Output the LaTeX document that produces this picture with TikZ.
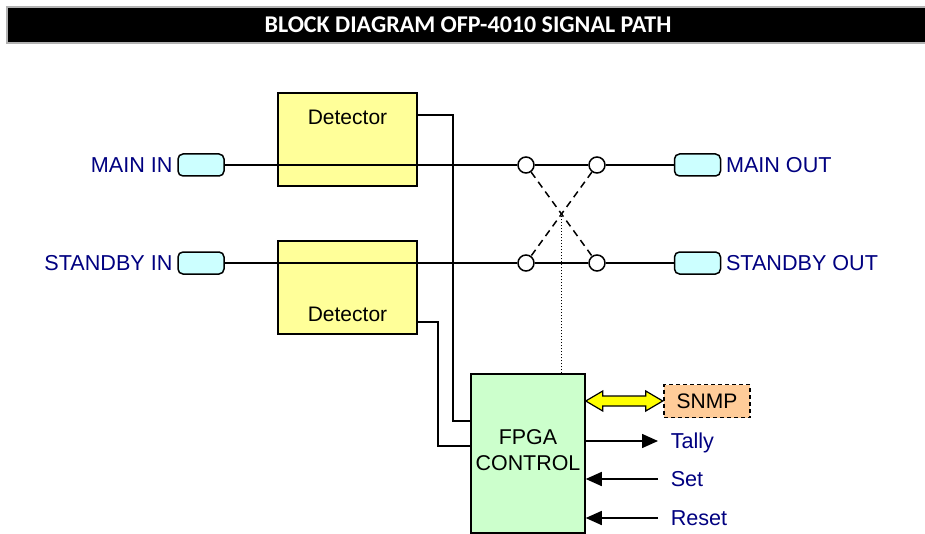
\documentclass[tikz,border=0pt]{standalone}
\usepackage{fontspec}
\setmainfont{Liberation Sans}
\newfontfamily\titlefont{Carlito}
\usepackage{tikz}
\usetikzlibrary{positioning, calc, arrows.meta}
\definecolor{ofpNavy}{RGB}{0,0,128}
\definecolor{ofpDetector}{RGB}{255,255,153}
\definecolor{ofpPort}{RGB}{204,255,255}
\definecolor{ofpFpga}{RGB}{204,255,204}
\definecolor{ofpSnmp}{RGB}{255,204,153}
\definecolor{ofpLink}{RGB}{255,255,0}

\begin{document}
\begin{tikzpicture}[x=0.5pt, y=-0.5pt, line width=0.75pt,
    detbox/.style={draw, fill=ofpDetector, minimum width=69.5pt, minimum height=46.5pt},
    detlabel/.style={font=\fontsize{10.5}{12}\selectfont},
    port/.style={draw, fill=ofpPort, rounded corners=2.5pt, minimum width=23pt, minimum height=11pt, inner sep=0pt, label distance=5pt},
    portlabel/.style={text=ofpNavy, font=\fontsize{10.8}{12}\selectfont, inner sep=2pt},
    switch/.style={draw, fill=white, circle, minimum size=8pt, inner sep=0pt},
    sig/.style={text=ofpNavy, font=\fontsize{10.8}{12}\selectfont, anchor=west, text height=7.7pt, text depth=0pt, inner sep=3pt},
    sigarrow/.style={-{Triangle[length=8pt, width=7pt]}}]
    \useasboundingbox (0,0) rectangle (925,534);
    \node[fill=black, draw=gray!60, minimum width=470pt, minimum height=18pt, text=white, font=\titlefont\bfseries\fontsize{12}{14}\selectfont] (title) at (477,25) {\hspace*{-9pt}BLOCK DIAGRAM OFP-4010 SIGNAL PATH};

    \node[detbox, label={[detlabel, anchor=north, yshift=-5pt]north:Detector}] (det1) at (347.5,139.5) {};
    \node[detbox, label={[detlabel, anchor=south, yshift=2.7pt]south:Detector}] (det2) at (347.5,287.5) {};
    \node[draw, fill=ofpFpga, minimum width=57pt, minimum height=79.5pt, inner xsep=1pt, align=center, font=\fontsize{10.7}{13}\selectfont] (fpga) at (528,453.5) {FPGA\\CONTROL\\[-10pt]\mbox{}};
    \node[draw, dash pattern=on 2pt off 1.5pt, fill=ofpSnmp, minimum width=43pt, minimum height=16.5pt, font=\fontsize{10.5}{12}\selectfont] (snmp) at (707,401) {SNMP};

    \node[port, label={[portlabel]left:MAIN IN}] (mainin) at (201,165) {};
    \node[port, label={[portlabel]left:STANDBY IN}] (sbyin) at (201,263) {};
    \node[port, label={[portlabel]right:MAIN OUT}] (mainout) at (697.5,165) {};
    \node[port, label={[portlabel]right:STANDBY OUT}] (sbyout) at (697.5,263) {};
    \node[switch] (sw1) at (526,165) {};
    \node[switch] (sw2) at (597,165) {};
    \node[switch] (sw3) at (526,263) {};
    \node[switch] (sw4) at (597,263) {};
    \coordinate (cross) at ($(sw1)!0.5!(sw4)$);

    \draw (mainin) -- (sw1);
    \draw (sw1) -- (sw2);
    \draw (sw2) -- (mainout);
    \draw (sbyin) -- (sw3);
    \draw (sw3) -- (sw4);
    \draw (sw4) -- (sbyout);
    \draw[dash pattern=on 3.5pt off 2.5pt] (sw1) -- (sw4);
    \draw[dash pattern=on 3.5pt off 2.5pt] (sw2) -- (sw3);
    \draw[densely dotted, line width=0.5pt] (fpga.north -| cross) -- (cross);

    \draw ([yshift=12.25pt]det1.east) -- ++(35,0) |- ([yshift=16.25pt]fpga.west);
    \draw ([yshift=-17.25pt]det2.east) -- ++(20,0) |- ([yshift=3.75pt]fpga.west);

    \draw[fill=ofpLink, line width=0.6pt] (fpga.east |- snmp) -- ++(17,-10) -- ++(0,5) -- ++(43,0) -- ++(0,-5) -- ++(17,10) -- ++(-17,10) -- ++(0,-5) -- ++(-43,0) -- ++(0,5) -- cycle;

    \node[sig] (tally) at (664,441) {Tally};
    \node[sig] (set) at (664,479) {Set};
    \node[sig] (reset) at (664,518) {Reset};
    \draw[sigarrow, shorten >=3pt] (fpga.east |- tally) -- (tally.west);
    \draw[sigarrow, shorten <=3pt] (set.west) -- (fpga.east |- set);
    \draw[sigarrow, shorten <=3pt] (reset.west) -- (fpga.east |- reset);
  \end{tikzpicture}
\end{document}
